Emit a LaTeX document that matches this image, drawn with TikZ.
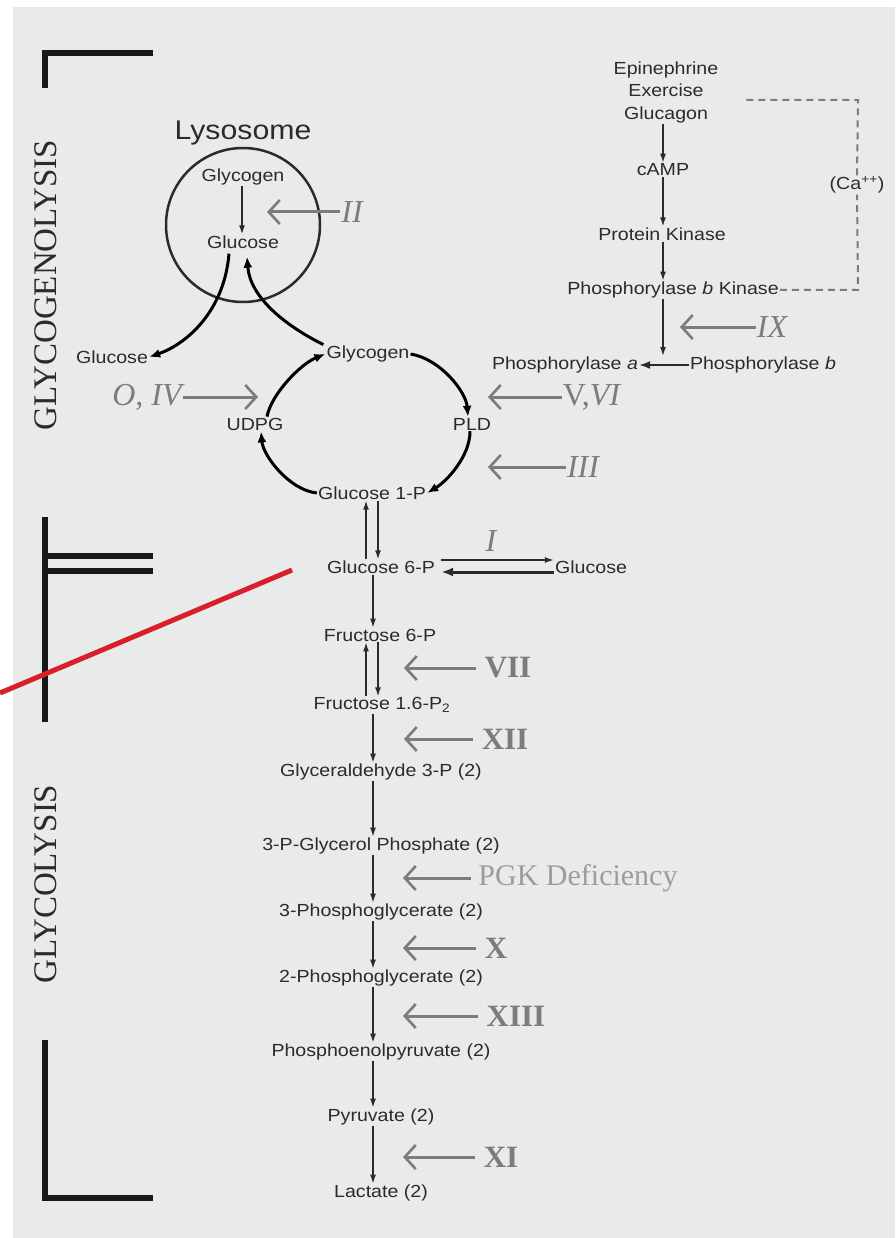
\documentclass[tikz,border=0pt]{standalone}
\usepackage{fontspec}
\setmainfont{Liberation Sans}
\newfontfamily\sansf[FakeStretch=1.12]{Liberation Sans}
\newfontfamily\serf{Liberation Serif}
\usetikzlibrary{arrows.meta,calc}
\definecolor{bg}{HTML}{E9EAEA}
\definecolor{txt}{HTML}{2B2B2B}
\definecolor{gr}{HTML}{7C7C7C}
\definecolor{lgr}{HTML}{9C9C9C}
\definecolor{redl}{HTML}{D8202B}
\tikzset{
 lab/.style={font=\sansf\fontsize{17.5}{22.5}\selectfont, text=txt, inner sep=1pt, align=center},
 flow/.style={draw=txt, line width=1.4pt, -{Latex[length=9pt,width=6pt]}},
 bflow/.style={draw=black, line width=3pt, -{Latex[length=11pt,width=9pt]}},
 defect/.style={draw=gr, line width=3pt, -{Straight Barb[length=11pt,width=24pt,line width=2.6pt]}},
 numit/.style={font=\serf\itshape\fontsize{32}{36}\selectfont, text=gr, inner sep=1pt},
 numbf/.style={font=\serf\bfseries\fontsize{31}{36}\selectfont, text=gr, inner sep=1pt},
 brk/.style={draw=black!90, line width=6pt, line join=miter},
 sect/.style={font=\serf\fontsize{33}{36}\selectfont, text=txt, rotate=90, inner sep=0pt},
 dash line/.style={draw=gr, line width=2pt, dash pattern=on 7pt off 5pt}
}
\begin{document}
\begin{tikzpicture}[x=1pt,y=-1pt]
\useasboundingbox (0,0) rectangle (895,1238);
\fill[white] (0,0) rectangle (895,1238);
\fill[bg] (13,7) rectangle (895,1238);

% brackets
\draw[brk] (153,53) -- (45,53) -- (45,88);
\draw[brk] (45,517) -- (45,722);
\draw[brk] (45,556) -- (153,556);
\draw[brk] (45,571) -- (153,571);
\draw[brk] (45,1040) -- (45,1198) -- (153,1198);
\node[sect] (sgn) at (46,285) {GLYCOGENOLYSIS};
\node[sect] (sgl) at (46,884) {GLYCOLYSIS};

% lysosome
\node[font=\sansf\fontsize{27}{30}\selectfont, text=txt, inner sep=1pt] (lysl) at (243,133) {Lysosome};
\node[draw=txt, line width=2.5pt, circle, minimum size=154pt, inner sep=0pt] (lys) at (243,225) {};
\node[lab] (lgly) at (243,177) {Glycogen};
\node[lab] (lglu) at (243,242) {Glucose};
\draw[flow] ([xshift=-1pt]lgly.south) -- ([xshift=-1pt]lglu.north);
\node[numit] (nII) at (352,212) {II};
\coordinate (tII) at (267,212);
\draw[defect] (nII.west) -- (tII);

% glycogen cycle
\node[lab] (glucL) at (112,357) {Glucose};
\node[lab] (glyc) at (368,354) {Glycogen};
\node[lab] (udpg) at (255,424) {UDPG};
\node[lab] (pld) at (472,424) {PLD};
\node[lab] (g1p) at (372,493) {Glucose 1-P};

\draw[bflow] ([xshift=-14pt,yshift=-4pt]lglu.south) .. controls +(-5,60) and +(35,-12) .. (glucL.east);
\draw[bflow] ([xshift=-2pt]glyc.north west) .. controls +(-40,-20) and +(3,40) .. ([xshift=4pt,yshift=-7pt]lglu.south);

\draw[bflow] ([xshift=12pt]udpg.north) .. controls +(4,-22) and +(-25,10) .. (glyc.west);
\draw[bflow] (glyc.east) .. controls +(30,5) and +(-2,-25) .. ([xshift=-4pt]pld.north);
\draw[bflow] ([xshift=-2pt]pld.south) .. controls +(0,25) and +(20,-12) .. (g1p.east);
\draw[bflow] (g1p.west) .. controls +(-28,-3) and +(2,24) .. ([xshift=6pt]udpg.south);

\node[numit] (nOIV) at (147,397) {O, IV};
\coordinate (tOIV) at (258,397);
\draw[defect] (nOIV.east) -- (tOIV);
\node[font=\serf\fontsize{32}{36}\selectfont, text=gr, inner sep=1pt] (nVVI) at (592,397) {V,\textit{VI}};
\coordinate (tVVI) at (488,397);
\draw[defect] (nVVI.west) -- (tVVI);
\node[numit] (nIII) at (583,467) {III};
\coordinate (tIII) at (488,467);
\draw[defect] (nIII.west) -- (tIII);

% hormonal cascade
\node[lab] (stim) at (666,92) {Epinephrine\\Exercise\\Glucagon};
\node[lab] (camp) at (663,170) {cAMP};
\node[lab] (pk) at (662,234) {Protein Kinase};
\node[lab] (pbk) at (673,290) {Phosphorylase \textit{b} Kinase};
\node[lab] (pa) at (565,365) {Phosphorylase \textit{a}};
\node[lab] (pb) at (763,365) {Phosphorylase \textit{b}};
\coordinate (xc) at (663,0);
\coordinate (jn) at (663,356);
\draw[flow] (stim.south -| xc) -- (camp.north -| xc);
\draw[flow] (camp.south -| xc) -- (pk.north -| xc);
\draw[flow] (pk.south -| xc) -- (pbk.north -| xc);
\draw[flow] (pbk.south -| xc) -- (jn);
\draw[draw=txt, line width=1.6pt, -{Latex[length=11pt,width=8pt]}] (pb.west) -- (pa.east);
\node[font=\sansf\fontsize{17.5}{20}\selectfont, text=txt, inner sep=1pt] (ca) at (857,185) {(Ca\textsuperscript{++})};
\coordinate (d1) at (858,290);
\coordinate (d2) at (858,100);
\coordinate (d3) at (743,100);
\draw[dash line] (pbk.east) -- (d1) -- (ca.south);
\draw[dash line] (ca.north) -- (d2) -- (d3);
\node[numit] (nIX) at (772,327) {IX};
\coordinate (tIX) at (680,327);
\draw[defect] (nIX.west) -- (tIX);

% glycolysis
\node[lab] (g6p) at (381,567) {Glucose 6-P};
\node[lab] (gluR) at (591,567) {Glucose};
\node[numit] (nI) at (491,541) {I};
\node[lab] (f6p) at (380,635) {Fructose 6-P};
\node[lab] (f16) at (382,705) {Fructose 1.6-P\textsubscript{2}};
\node[lab] (ga3p) at (381,772) {Glyceraldehyde 3-P (2)};
\node[lab] (pgp) at (381,846) {3-P-Glycerol Phosphate (2)};
\node[lab] (pg3) at (381,912) {3-Phosphoglycerate (2)};
\node[lab] (pg2) at (381,978) {2-Phosphoglycerate (2)};
\node[lab] (pep) at (381,1052) {Phosphoenolpyruvate (2)};
\node[lab] (pyr) at (381,1117) {Pyruvate (2)};
\node[lab] (lac) at (381,1193) {Lactate (2)};

\coordinate (xu) at (366,0);
\coordinate (xd) at (378,0);
\coordinate (xm) at (373,0);
\draw[flow] (g6p.north -| xu) -- (g1p.south -| xu);
\draw[flow] (g1p.south -| xd) -- (g6p.north -| xd);
\draw[flow, shorten <=5pt] ([yshift=7pt]g6p.east) -- ([yshift=7pt]gluR.west);
\draw[draw=txt, line width=3pt, -{Latex[length=12pt,width=9pt]}, shorten >=5pt] ([yshift=-5pt]gluR.west) -- ([yshift=-5pt]g6p.east);
\draw[flow] (g6p.south -| xm) -- (f6p.north -| xm);
\draw[flow] (f16.north -| xu) -- (f6p.south -| xu);
\draw[flow] (f6p.south -| xd) -- (f16.north -| xd);
\draw[flow] (f16.south -| xm) -- (ga3p.north -| xm);
\draw[flow] (ga3p.south -| xm) -- (pgp.north -| xm);
\draw[flow] (pgp.south -| xm) -- (pg3.north -| xm);
\draw[flow] (pg3.south -| xm) -- (pg2.north -| xm);
\draw[flow] (pg2.south -| xm) -- (pep.north -| xm);
\draw[flow] (pep.south -| xm) -- (pyr.north -| xm);
\draw[flow] (pyr.south -| xm) -- (lac.north -| xm);

\node[numbf] (nVII) at (508,668) {VII};
\coordinate (tVII) at (404,668);
\draw[defect, shorten <=8pt] (nVII.west) -- (tVII);
\node[numbf] (nXII) at (505,739) {XII};
\coordinate (tXII) at (404,739);
\draw[defect, shorten <=8pt] (nXII.west) -- (tXII);
\node[font=\serf\fontsize{30}{34}\selectfont, text=lgr, inner sep=1pt] (nPGK) at (578,878) {PGK Deficiency};
\coordinate (tPGK) at (403,878);
\draw[defect, shorten <=6pt] (nPGK.west) -- (tPGK);
\node[numbf] (nX) at (496,948) {X};
\coordinate (tX) at (403,948);
\draw[defect, shorten <=8pt] (nX.west) -- (tX);
\node[numbf] (nXIII) at (516,1016) {XIII};
\coordinate (tXIII) at (403,1016);
\draw[defect, shorten <=8pt] (nXIII.west) -- (tXIII);
\node[numbf] (nXI) at (501,1157) {XI};
\coordinate (tXI) at (403,1157);
\draw[defect, shorten <=8pt] (nXI.west) -- (tXI);

% red annotation line
\coordinate (r1) at (292,570);
\coordinate (r2) at (0,693);
\draw[draw=redl, line width=5pt] (r1) -- (r2);
\end{tikzpicture}
\end{document}
